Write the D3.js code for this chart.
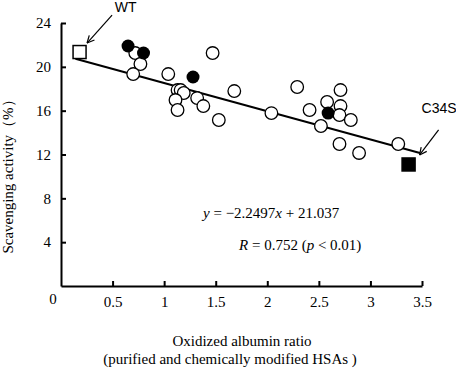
<!DOCTYPE html>
<html>
<head>
<meta charset="utf-8">
<script src="https://cdn.jsdelivr.net/npm/d3@7"></script>
<style>
    body { margin: 0; background: #fff; }
    svg { display: block; font-family: "Liberation Serif", "Times New Roman", serif; }
</style>
</head>
<body>
<div id="chart"></div>
<script>
// open circles: purified / chemically modified HSAs
const openX = [0.72, 0.77, 0.70, 1.04, 1.13, 1.16, 1.19, 1.11, 1.13, 1.32, 1.38, 1.47, 1.68, 1.53,
    2.04, 2.29, 2.41, 2.52, 2.71, 2.58, 2.71, 2.70, 2.81, 2.70, 2.89, 3.27];
const openY = [21.26, 20.26, 19.34, 19.34, 17.88, 17.88, 17.61, 16.97, 16.06, 17.15, 16.42, 21.26, 17.79, 15.15,
    15.78, 18.16, 16.06, 14.6, 17.88, 16.79, 16.42, 15.6, 15.15, 12.96, 12.14, 12.96];
// filled circles
const filledX = [0.65, 0.80, 1.28, 2.59];
const filledY = [21.9, 21.26, 19.07, 15.78];
// squares (WT open, C34S filled)
const squareLabels = ["WT", "C34S"];
const squareX = [0.18, 3.37];
const squareY = [21.35, 11.09];
const squareFilled = [false, true];
// regression line as drawn
const fitX = [0.14, 3.48];
const fitY = [20.73, 12.14];

const xTicks = [0.5, 1, 1.5, 2, 2.5, 3, 3.5];
const yTicks = [4, 8, 12, 16, 20, 24];

const width = 456, height = 370;
const serif = "'Liberation Serif', 'Times New Roman', serif";

const svg = d3.select("#chart").append("svg")
    .attr("width", width)
    .attr("height", height);

const x = d3.scaleLinear().domain([0, 3.5]).range([61, 422]);
const y = d3.scaleLinear().domain([0, 24]).range([286, 23]);

// axes, ticks point inward
const xAxis = svg.append("g")
    .attr("transform", `translate(0,${y(0)})`)
    .call(d3.axisBottom(x).tickValues(xTicks).tickFormat(d3.format("")).tickSizeInner(-5).tickSizeOuter(0).tickPadding(10));
const yAxis = svg.append("g")
    .attr("transform", `translate(${x(0)},0)`)
    .call(d3.axisLeft(y).tickValues(yTicks).tickSizeInner(-5).tickSizeOuter(0).tickPadding(10));

[xAxis, yAxis].forEach(ax => {
    ax.attr("font-family", null).attr("font-size", null);
    ax.select(".domain").attr("stroke", "#000").attr("stroke-width", 2);
    ax.selectAll(".tick line").attr("stroke", "#000").attr("stroke-width", 2);
    ax.selectAll(".tick text").attr("fill", "#000").style("font-size", "15px").style("font-family", serif);
});

svg.append("text")
    .attr("x", x(0) - 8).attr("y", 304)
    .attr("text-anchor", "middle").attr("font-size", 15)
    .text("0");

// regression line
svg.append("line")
    .attr("x1", x(fitX[0])).attr("y1", y(fitY[0]))
    .attr("x2", x(fitX[1])).attr("y2", y(fitY[1]))
    .attr("stroke", "#000").attr("stroke-width", 2);

// points
const openPts = openX.map((d, i) => ({ x: d, y: openY[i] }));
const filledPts = filledX.map((d, i) => ({ x: d, y: filledY[i] }));

svg.append("g").selectAll("circle")
    .data(openPts).enter().append("circle")
    .attr("cx", d => x(d.x)).attr("cy", d => y(d.y)).attr("r", 6.3)
    .attr("fill", "#fff").attr("stroke", "#000").attr("stroke-width", 1.3);

svg.append("g").selectAll("circle")
    .data(filledPts).enter().append("circle")
    .attr("cx", d => x(d.x)).attr("cy", d => y(d.y)).attr("r", 6.5)
    .attr("fill", "#000");

const squares = squareX.map((d, i) => ({ label: squareLabels[i], x: d, y: squareY[i], filled: squareFilled[i] }));
const sq = 13;
svg.append("g").selectAll("rect")
    .data(squares).enter().append("rect")
    .attr("x", d => x(d.x) - sq / 2).attr("y", d => y(d.y) - sq / 2)
    .attr("width", sq).attr("height", sq)
    .attr("fill", d => d.filled ? "#000" : "#fff")
    .attr("stroke", "#000").attr("stroke-width", 1.5);

// callouts: arrow from label down to the square
const callouts = [
    { tip: [7.5, -9], tail: [32.5, -37], text: [46, -40], anchor: "middle" },
    { tip: [11, -9.5], tail: [30, -34.5], text: [13, -51], anchor: "start" }
];
squares.forEach((d, i) => {
    const c = callouts[i];
    const cx = x(d.x), cy = y(d.y);
    const tx = cx + c.tip[0], ty = cy + c.tip[1];
    const sx = cx + c.tail[0], sy = cy + c.tail[1];
    svg.append("line")
        .attr("x1", sx).attr("y1", sy).attr("x2", tx).attr("y2", ty)
        .attr("stroke", "#000").attr("stroke-width", 1.2);
    const ang = Math.atan2(sy - ty, sx - tx);
    [-0.45, 0.45].forEach(a => {
        svg.append("line")
            .attr("x1", tx).attr("y1", ty)
            .attr("x2", tx + 8 * Math.cos(ang + a)).attr("y2", ty + 8 * Math.sin(ang + a))
            .attr("stroke", "#000").attr("stroke-width", 1.2);
    });
    svg.append("text")
        .attr("x", cx + c.text[0]).attr("y", cy + c.text[1])
        .attr("text-anchor", c.anchor).attr("font-size", 14)
        .attr("font-family", "'Liberation Sans', Arial, sans-serif")
        .text(d.label);
});

// equation and correlation
const eq = svg.append("text").attr("x", 203).attr("y", 218).attr("font-size", 15);
eq.append("tspan").attr("font-style", "italic").text("y");
eq.append("tspan").text(" = −2.2497");
eq.append("tspan").attr("font-style", "italic").text("x");
eq.append("tspan").text(" + 21.037");

const rr = svg.append("text").attr("x", 239).attr("y", 250).attr("font-size", 15);
rr.append("tspan").attr("font-style", "italic").text("R");
rr.append("tspan").text(" = 0.752 (");
rr.append("tspan").attr("font-style", "italic").text("p");
rr.append("tspan").text(" < 0.01)");

// axis titles
svg.append("text")
    .attr("x", 242).attr("y", 346)
    .attr("text-anchor", "middle").attr("font-size", 15)
    .text("Oxidized albumin ratio");
svg.append("text")
    .attr("x", 230).attr("y", 364)
    .attr("text-anchor", "middle").attr("font-size", 15)
    .text("(purified and chemically modified HSAs )");

svg.append("text")
    .attr("transform", "translate(13,173) rotate(-90)")
    .attr("text-anchor", "middle").attr("font-size", 15)
    .text("Scavenging activity（%）");
</script>
</body>
</html>
